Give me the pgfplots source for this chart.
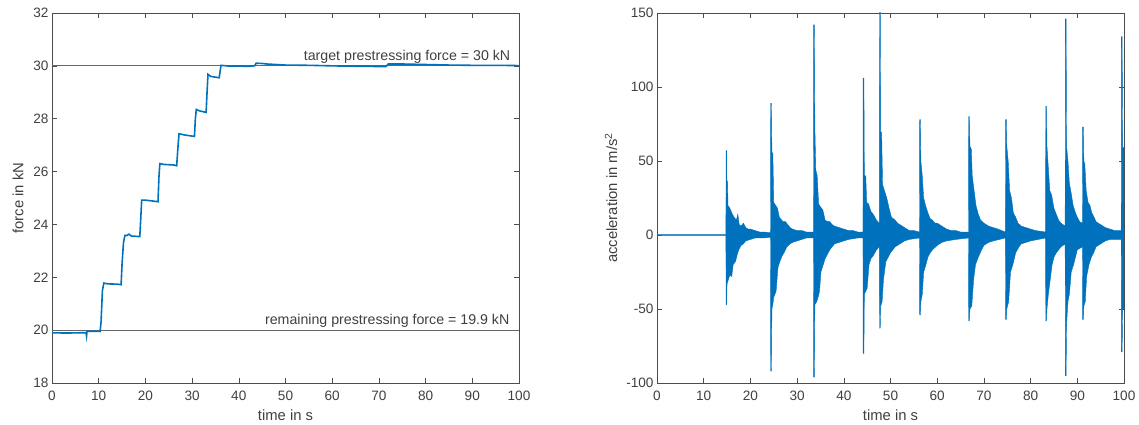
\documentclass[border=0pt]{standalone}
\usepackage{pgfplots}
\pgfplotsset{compat=1.18}
\usepgfplotslibrary{fillbetween}
\usepackage{fontspec}
\setmainfont{Liberation Sans}
\definecolor{mblue}{RGB}{0,114,189}
\definecolor{axc}{RGB}{77,77,77}
\definecolor{txc}{RGB}{64,64,64}
\pgfplotsset{mystyle/.style={
  scale only axis, width=467pt, height=370pt,
  xmin=0, xmax=100, xtick={0,10,...,100},
  tick align=inside, major tick length=5pt,
  axis line style={axc, line width=0.8pt},
  every tick/.style={axc, line width=0.6pt},
  tick label style={font=\fontsize{13.6}{15}\selectfont, text=txc},
  label style={font=\fontsize{14.8}{16}\selectfont, text=txc},
  /pgf/number format/assume math mode=true,
  xlabel={time in s},
  xlabel style={yshift=-3pt},
  xticklabel style={yshift=-4pt},
}}
\begin{document}
\begin{tikzpicture}
\begin{axis}[mystyle, at={(52pt,42pt)}, anchor=south west,
  ymin=18, ymax=32, ytick={18,20,...,32},
  ylabel={force in kN}, ylabel style={yshift=3pt}]
\addplot[black!60, line width=0.8pt] coordinates {(0,30) (100,30)};
\addplot[black!60, line width=0.8pt] coordinates {(0,20) (100,20)};
\node[anchor=south east, inner sep=2pt, text=txc, font=\fontsize{14.2}{15}\selectfont] at (axis cs:98.6,30) {target prestressing force = 30 kN};
\node[anchor=south east, inner sep=2pt, text=txc, font=\fontsize{14.2}{15}\selectfont] at (axis cs:98.4,20) {remaining prestressing force = 19.9 kN};
\addplot[mblue, line width=1.6pt] table[row sep=\\] {
0 19.90\\ 3 19.89\\ 6 19.90\\ 7.3 19.90\\ 7.4 19.78\\ 7.5 19.95\\ 9 19.96\\ 10.3 19.95\\
10.5 20.3\\ 10.8 21.5\\ 11.1 21.78\\ 12 21.75\\ 14 21.74\\ 14.8 21.72\\
15.0 22.5\\ 15.3 23.3\\ 15.6 23.58\\ 16 23.58\\ 16.5 23.63\\ 17 23.56\\ 18.8 23.54\\
19.0 24.2\\ 19.2 24.92\\ 20 24.92\\ 22.7 24.86\\
22.9 25.8\\ 23.1 26.30\\ 24 26.27\\ 26 26.25\\ 26.7 26.22\\
27.0 27.0\\ 27.2 27.43\\ 28.5 27.38\\ 30.5 27.33\\
30.7 28.0\\ 30.9 28.35\\ 31.5 28.30\\ 33.0 28.24\\
33.2 29.0\\ 33.4 29.68\\ 34 29.60\\ 35.8 29.55\\
36.0 29.8\\ 36.2 30.02\\ 38 29.99\\ 40 29.99\\ 42 29.98\\ 43.4 30.00\\
43.7 30.10\\ 45 30.09\\ 46 30.07\\ 48 30.05\\ 50 30.03\\ 55 30.02\\ 60 30.00\\
63 29.99\\ 68 29.98\\ 71.5 29.97\\ 72 30.07\\ 75 30.07\\ 80 30.05\\ 85 30.03\\
90 30.02\\ 95 30.02\\ 100 30.01\\
};
\end{axis}
\begin{axis}[mystyle, at={(657pt,42pt)}, anchor=south west,
  ymin=-100, ymax=150, ytick={-100,-50,...,150},
  ylabel={acceleration in m/s\textsuperscript{2}}, ylabel style={yshift=2pt}]
\addplot[mblue, line width=0.4pt, name path=up] table[row sep=\\] {
0 0.5\\ 14.75 0.5\\ 14.8 57\\ 14.9 57\\ 14.95 37\\ 15.1 36\\ 15.2 20\\ 15.6 18\\ 16.0 15\\ 16.5 12\\ 17.0 10\\ 17.3 14\\ 17.6 7\\ 18.0 6\\ 18.5 8\\ 19.0 5\\ 19.5 4\\ 20.0 4\\ 21 3\\ 22 2\\ 23 2\\ 24.3 1.5\\
24.35 89\\ 24.5 89\\ 24.6 56\\ 24.8 55\\ 25.0 22\\ 25.4 20\\ 25.8 18\\ 26.2 12\\ 26.7 10\\ 27.0 9\\ 27.5 9\\ 28 7\\ 28.5 5\\ 29 4\\ 30 3\\ 31 3\\ 32 2\\ 33.5 2\\
33.55 142\\ 33.7 142\\ 33.8 73\\ 34 44\\ 34.3 40\\ 34.6 21\\ 35 19\\ 35.5 17\\ 36 10\\ 36.6 9\\ 37 9\\ 37.5 7\\ 38 6\\ 39 5\\ 40 4\\ 41 3\\ 42 3\\ 43 2\\ 44.1 2\\
44.15 106\\ 44.3 106\\ 44.4 40\\ 44.7 40\\ 44.9 22\\ 45.3 21\\ 45.8 16\\ 46.3 14\\ 47 10\\ 47.6 8\\
47.65 160\\ 47.8 160\\ 47.9 70\\ 48.1 69\\ 48.3 34\\ 48.7 30\\ 49.2 25\\ 49.7 18\\ 50.2 12\\ 51 10\\ 51.5 8\\ 52 7\\ 53 5\\ 54 3\\ 55 3\\ 56.2 2\\
56.25 78\\ 56.4 78\\ 56.5 50\\ 56.8 40\\ 57.1 25\\ 57.5 20\\ 58 15\\ 58.5 11\\ 59 10\\ 59.5 8\\ 60 8\\ 61 6\\ 62 4\\ 63 3\\ 64 3\\ 65 2\\ 66.7 2\\
66.75 80\\ 66.9 80\\ 67.0 60\\ 67.3 58\\ 67.5 40\\ 67.9 30\\ 68.3 20\\ 68.8 14\\ 69.3 10\\ 70 8\\ 71 6\\ 72 5\\ 73 4\\ 74.6 2\\
74.65 78\\ 74.8 78\\ 74.9 60\\ 75.2 50\\ 75.5 30\\ 75.9 25\\ 76.3 15\\ 76.8 12\\ 77.3 8\\ 78 6\\ 79 5\\ 80 4\\ 81 3\\ 83.2 2\\
83.25 87\\ 83.4 87\\ 83.5 60\\ 83.8 45\\ 84.1 30\\ 84.5 27\\ 85 18\\ 85.5 14\\ 86 10\\ 86.5 8\\ 87.4 6\\
87.45 146\\ 87.6 146\\ 87.7 60\\ 88 50\\ 88.3 35\\ 88.7 28\\ 89.1 20\\ 89.6 15\\ 90 12\\ 90.5 9\\ 91.1 8\\
91.15 73\\ 91.3 73\\ 91.4 50\\ 91.6 48\\ 91.9 30\\ 92.3 22\\ 92.7 20\\ 93.1 15\\ 93.6 12\\ 94 9\\ 95 7\\ 96 5\\ 97 4\\ 98 3\\ 99.4 3\\
99.45 134\\ 99.6 134\\ 99.7 59\\ 100 59\\
};
\addplot[mblue, line width=0.4pt, name path=lo] table[row sep=\\] {
0 -0.3\\ 14.75 -0.3\\ 14.8 -47\\ 14.9 -47\\ 15.0 -33\\ 15.3 -30\\ 15.6 -27\\ 16.0 -28\\ 16.3 -20\\ 16.8 -18\\ 17.2 -13\\ 17.5 -10\\ 18 -7\\ 18.5 -6\\ 19 -4\\ 20 -3\\ 21 -2\\ 23 -2\\ 24.3 -1.5\\
24.35 -92\\ 24.5 -92\\ 24.6 -50\\ 24.8 -47\\ 25.0 -42\\ 25.5 -38\\ 25.9 -22\\ 26.3 -18\\ 26.8 -14\\ 27.2 -12\\ 27.8 -8\\ 28.5 -6\\ 29 -5\\ 30 -4\\ 31 -3\\ 32 -2\\ 33.5 -2\\
33.55 -96\\ 33.7 -96\\ 33.8 -47\\ 34.2 -45\\ 34.5 -42\\ 34.8 -38\\ 35.1 -25\\ 35.5 -21\\ 36 -16\\ 36.5 -13\\ 37 -10\\ 37.5 -8\\ 38 -6\\ 39 -5\\ 40 -4\\ 41 -3\\ 43 -2\\ 44.1 -2\\
44.15 -80\\ 44.3 -80\\ 44.4 -40\\ 44.7 -38\\ 45 -36\\ 45.4 -20\\ 45.8 -16\\ 46.3 -14\\ 47 -10\\ 47.6 -8\\
47.65 -63\\ 47.8 -63\\ 47.9 -48\\ 48.2 -45\\ 48.5 -30\\ 49 -18\\ 49.5 -15\\ 50 -12\\ 51 -8\\ 52 -6\\ 53 -4\\ 54 -3\\ 56.2 -2\\
56.25 -54\\ 56.4 -54\\ 56.5 -45\\ 56.8 -40\\ 57.1 -25\\ 57.6 -20\\ 58 -15\\ 58.5 -12\\ 59 -10\\ 60 -7\\ 61 -5\\ 62 -4\\ 64 -3\\ 66.7 -2\\
66.75 -58\\ 66.9 -58\\ 67 -50\\ 67.4 -48\\ 67.8 -30\\ 68.2 -20\\ 68.8 -15\\ 69.5 -10\\ 70 -7\\ 71 -5\\ 72 -4\\ 74.6 -2\\
74.65 -57\\ 74.8 -57\\ 74.9 -50\\ 75.3 -45\\ 75.7 -25\\ 76.2 -20\\ 76.8 -12\\ 77.5 -8\\ 78 -6\\ 80 -4\\ 83.2 -2\\
83.25 -58\\ 83.4 -58\\ 83.5 -50\\ 83.8 -40\\ 84.2 -30\\ 84.6 -20\\ 85 -15\\ 85.5 -12\\ 86 -10\\ 86.5 -8\\ 87.4 -6\\
87.45 -95\\ 87.6 -95\\ 87.7 -60\\ 88 -45\\ 88.3 -40\\ 88.7 -25\\ 89.2 -20\\ 89.6 -15\\ 90 -10\\ 91.1 -8\\
91.15 -57\\ 91.3 -57\\ 91.4 -48\\ 91.7 -45\\ 92 -28\\ 92.5 -20\\ 93 -15\\ 93.5 -12\\ 94 -8\\ 95 -6\\ 96 -4\\ 97 -3\\ 99.4 -3\\
99.45 -79\\ 99.6 -79\\ 99.7 -50\\ 100 -50\\
};
\addplot[mblue] fill between[of=up and lo];
\end{axis}
\pgfresetboundingbox
\path[use as bounding box] (0,0) rectangle (1139pt,425pt);
\end{tikzpicture}
\end{document}
